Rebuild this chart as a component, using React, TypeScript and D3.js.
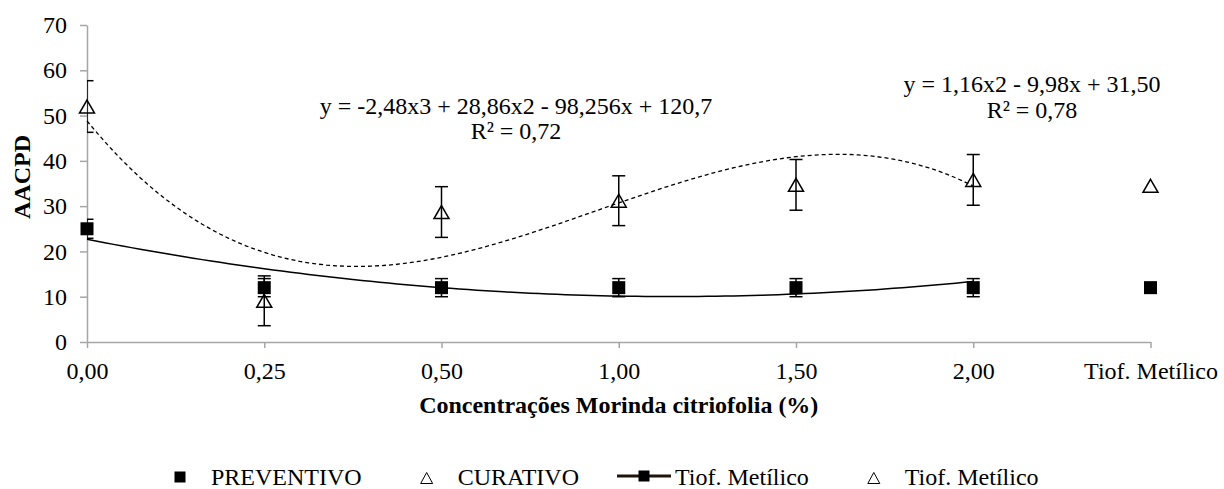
import React, { useRef, useEffect } from 'react';
import * as d3 from 'd3';

// categories on the x axis (last one is the fungicide control)
const categories = ['0,00', '0,25', '0,50', '1,00', '1,50', '2,00', 'Tiof. Metílico'];
const doses = categories.slice(0, 6);

const preventivo = [25, 12, 12, 12, 12, 12];
const preventivoErr = [2.1, 2, 2, 2, 2, 2];
const curativo = [52, 9.1, 28.7, 31.2, 34.7, 35.8];
const curativoErr = [5.7, 5.5, 5.6, 5.5, 5.6, 5.6];

const tiofPreventivo = 12;
const tiofCurativo = 34.5;

// trendline coefficients as printed on the chart, highest power first (x = 1..6)
const curativoCoef = [-2.48, 28.86, -98.256, 120.7];
const preventivoCoef = [1.16, -9.98, 31.5];

const yTicks = [0, 10, 20, 30, 40, 50, 60, 70];

const eqCurativo = ['y = -2,48x3 + 28,86x2 - 98,256x + 120,7', 'R² = 0,72'];
const eqPreventivo = ['y = 1,16x2 - 9,98x + 31,50', 'R² = 0,78'];

const legendItems = [
  { label: 'PREVENTIVO', kind: 'square' },
  { label: 'CURATIVO', kind: 'triangle' },
  { label: 'Tiof. Metílico', kind: 'line' },
  { label: 'Tiof. Metílico', kind: 'triangle' },
];

const font = 'Liberation Serif, Times New Roman, DejaVu Serif, serif';

function trianglePath(cx: number, cy: number, w: number, h: number) {
  return `M${cx},${cy - h / 2}L${cx + w / 2},${cy + h / 2}L${cx - w / 2},${cy + h / 2}Z`;
}

export default function App() {
  const svgRef = useRef<SVGSVGElement>(null);

  useEffect(() => {
    const width = 1224;
    const height = 489;
    const svg = d3.select(svgRef.current)
      .attr('width', width).attr('height', height)
      .attr('font-family', font);
    svg.selectAll('*').remove();

    const x = d3.scalePoint<string>().domain(categories).range([87, 1150.5]);
    const y = d3.scaleLinear().domain([0, 70]).range([342, 25]);
    // Excel fits the trendlines on the category index 1..n
    const xt = d3.scaleLinear().domain([1, 2]).range([x(categories[0])!, x(categories[1])!]);

    const [x0, x1] = x.range();
    svg.append('defs').append('clipPath').attr('id', 'plot-clip')
      .append('rect')
      .attr('x', x0).attr('y', 0)
      .attr('width', x1 - x0 + 20).attr('height', y(0));

    // axes
    const yAxis = svg.append('g')
      .attr('transform', `translate(${x0},0)`)
      .call(d3.axisLeft(y).tickValues(yTicks).tickSize(7).tickSizeOuter(0).tickPadding(13));
    const xAxis = svg.append('g')
      .attr('transform', `translate(0,${y(0)})`)
      .call(d3.axisBottom(x).tickSize(6).tickSizeOuter(0).tickPadding(14));
    [yAxis, xAxis].forEach(g => {
      g.attr('font-family', font).attr('font-size', 24);
      g.select('.domain').attr('stroke', '#a6a6a6').attr('stroke-width', 1.5);
      g.selectAll('.tick line').attr('stroke', '#a6a6a6').attr('stroke-width', 1.5);
      g.selectAll('.tick text').attr('fill', '#000');
    });

    // axis titles
    svg.append('text')
      .attr('transform', `translate(30,177) rotate(-90)`)
      .attr('text-anchor', 'middle')
      .attr('font-size', 24).attr('font-weight', 'bold')
      .text('AACPD');
    svg.append('text')
      .attr('x', (x0 + x1) / 2).attr('y', 413)
      .attr('text-anchor', 'middle')
      .attr('font-size', 24).attr('font-weight', 'bold')
      .text('Concentrações Morinda citriofolia (%)');

    // trendlines
    const poly = (c: number[]) => (t: number) => c.reduce((acc, k) => acc * t + k, 0);
    const ts = d3.range(1, doses.length + 0.001, 0.05);
    const fc = poly(curativoCoef);
    const fp = poly(preventivoCoef);
    svg.append('path')
      .attr('d', d3.line<number>().x(t => xt(t)).y(t => y(fc(t)))(ts))
      .attr('fill', 'none').attr('stroke', '#000').attr('stroke-width', 1.3)
      .attr('stroke-dasharray', '4,3');
    svg.append('path')
      .attr('d', d3.line<number>().x(t => xt(t)).y(t => y(fp(t)))(ts))
      .attr('fill', 'none').attr('stroke', '#000').attr('stroke-width', 1.5);

    // error bars (clipped to plot area like Excel)
    const errG = svg.append('g').attr('clip-path', 'url(#plot-clip)')
      .attr('stroke', '#000').attr('stroke-width', 1.5);
    const drawErr = (vals: number[], errs: number[]) => {
      vals.forEach((v, i) => {
        const cx = x(doses[i])!;
        const top = y(v + errs[i]);
        const bot = y(v - errs[i]);
        errG.append('line').attr('x1', cx).attr('x2', cx).attr('y1', top).attr('y2', bot);
        errG.append('line').attr('x1', cx - 6.5).attr('x2', cx + 6.5).attr('y1', top).attr('y2', top);
        errG.append('line').attr('x1', cx - 6.5).attr('x2', cx + 6.5).attr('y1', bot).attr('y2', bot);
      });
    };
    drawErr(preventivo, preventivoErr);
    drawErr(curativo, curativoErr);

    // markers
    const sq = 13;
    const prevPts = [...preventivo.map((v, i) => ({ c: doses[i], v })), { c: categories[6], v: tiofPreventivo }];
    const curPts = [...curativo.map((v, i) => ({ c: doses[i], v })), { c: categories[6], v: tiofCurativo }];

    svg.append('g').selectAll('rect')
      .data(prevPts)
      .enter().append('rect')
      .attr('x', d => x(d.c)! - sq / 2)
      .attr('y', d => y(d.v) - sq / 2)
      .attr('width', sq).attr('height', sq)
      .attr('fill', '#000');

    svg.append('g').selectAll('path')
      .data(curPts)
      .enter().append('path')
      .attr('d', d => trianglePath(x(d.c)!, y(d.v), 15, 13))
      .attr('fill', 'none').attr('stroke', '#000').attr('stroke-width', 1.5);

    // regression labels
    const drawEq = (lines: string[], cx: number, baseline: number, step: number) => {
      lines.forEach((t, i) => {
        svg.append('text')
          .attr('x', cx).attr('y', baseline + i * step)
          .attr('text-anchor', 'middle')
          .attr('font-size', 24)
          .text(t);
      });
    };
    drawEq(eqCurativo, 516, 113.5, 25);
    drawEq(eqPreventivo, 1032, 92, 26);

    // legend along the bottom
    const legend = svg.append('g');
    const baseY = 485;
    const midY = 477;
    let cursor = 153;
    legendItems.forEach(item => {
      const cx = cursor + 27;
      if (item.kind === 'square') {
        legend.append('rect').attr('x', cx - 5.5).attr('y', midY - 5.5)
          .attr('width', 11).attr('height', 11).attr('fill', '#000');
      } else if (item.kind === 'triangle') {
        legend.append('path').attr('d', trianglePath(cx, midY + 1, 12, 11))
          .attr('fill', 'none').attr('stroke', '#000').attr('stroke-width', 1);
      } else {
        legend.append('line').attr('x1', cursor).attr('x2', cursor + 54)
          .attr('y1', midY - 1).attr('y2', midY - 1)
          .attr('stroke', '#1e1408').attr('stroke-width', 3);
        legend.append('rect').attr('x', cx - 5.5).attr('y', midY - 6.5)
          .attr('width', 11).attr('height', 11).attr('fill', '#000');
      }
      const txt = legend.append('text')
        .attr('x', cursor + 58).attr('y', baseY)
        .attr('font-size', 24)
        .text(item.label);
      const len = (txt.node() as SVGTextElement).getComputedTextLength();
      cursor = cursor + 58 + len + 38;
    });
  }, []);

  return (
    <div style={{ position: 'absolute', left: 0, top: 0 }}>
      <svg ref={svgRef}></svg>
    </div>
  );
}
